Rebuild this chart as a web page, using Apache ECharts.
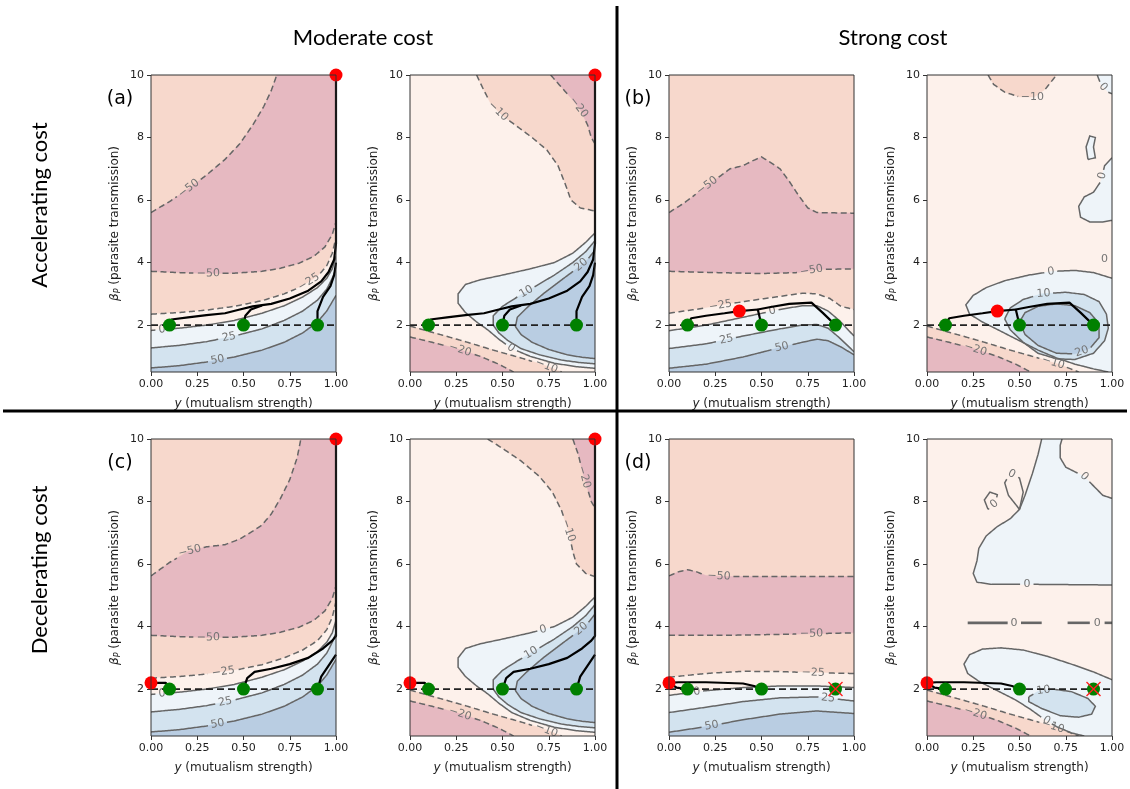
<!DOCTYPE html>
<html>
<head>
<meta charset="utf-8">
<script src="https://cdn.jsdelivr.net/npm/echarts@6/dist/echarts.min.js"></script>
<style>html,body{margin:0;padding:0;background:#fff}#main{width:1130px;height:789px}</style>
</head>
<body>
<div id="main"></div>
<script>
// axes
var xTicks = [0, 0.25, 0.5, 0.75, 1];
var yTicks = [2, 4, 6, 8, 10];
var yMin = 0.5, yMax = 10;
var greens = [[0.1, 2], [0.5, 2], [0.9, 2]];
var startLine = [[0, 2], [1, 2]];

// moderate cost, accelerating (a) - left, levels -50..50
var aUp50 = [[0,5.6],[0.1,5.95],[0.2,6.35],[0.3,6.8],[0.4,7.3],[0.48,7.8],[0.55,8.4],[0.61,9.0],[0.65,9.5],[0.68,10]];
var aLow50 = [[0,3.72],[0.15,3.68],[0.3,3.65],[0.45,3.66],[0.6,3.72],[0.7,3.82],[0.8,3.98],[0.88,4.2],[0.94,4.5],[0.98,4.9],[1,5.3]];
var aNeg25 = [[0,2.35],[0.15,2.4],[0.3,2.48],[0.45,2.6],[0.6,2.78],[0.72,3.0],[0.82,3.25],[0.9,3.55],[0.95,3.9],[0.98,4.3],[1,4.8]];
var aZero = [[0,1.83],[0.15,1.9],[0.3,2.0],[0.45,2.15],[0.6,2.38],[0.72,2.62],[0.82,2.9],[0.9,3.2],[0.95,3.5],[0.98,3.8],[1,4.2]];
var aPos25 = [[0,1.27],[0.15,1.35],[0.3,1.47],[0.45,1.65],[0.6,1.88],[0.72,2.15],[0.82,2.45],[0.9,2.8],[0.95,3.15],[0.98,3.5],[1,3.8]];
var aPos50 = [[0,0.63],[0.15,0.7],[0.3,0.82],[0.45,0.98],[0.6,1.2],[0.72,1.45],[0.82,1.75],[0.9,2.1],[0.95,2.45],[1,2.95]];
// (a) right, levels -20..20
var a2Neg10 = [[0.36,10],[0.4,9.5],[0.44,9.05],[0.5,8.7],[0.58,8.35],[0.66,8.0],[0.74,7.6],[0.8,7.1],[0.84,6.5],[0.87,6.0],[0.92,5.75],[1,5.65]];
var a2Neg20 = [[0.76,10],[0.82,9.6],[0.88,9.2],[0.92,8.9],[0.96,8.4],[0.98,8.0],[1,7.8]];
var blNeg10 = [[0,1.97],[0.15,1.72],[0.3,1.47],[0.45,1.2],[0.6,0.95],[0.72,0.73],[0.82,0.5]];
var blNeg20 = [[0,1.62],[0.12,1.45],[0.25,1.25],[0.38,1.0],[0.48,0.75],[0.56,0.5]];
var a2Zero = [[1,4.95],[0.95,4.65],[0.88,4.3],[0.78,4.0],[0.65,3.8],[0.5,3.6],[0.38,3.45],[0.3,3.3],[0.26,3.0],[0.26,2.7],[0.3,2.4],[0.36,2.1],[0.42,1.85],[0.48,1.55],[0.55,1.25],[0.65,1.0],[0.78,0.78],[0.9,0.67],[1,0.62]];
var a2Pos10 = [[1,4.7],[0.95,4.35],[0.88,4.0],[0.78,3.6],[0.68,3.25],[0.58,2.9],[0.5,2.6],[0.45,2.3],[0.45,2.0],[0.48,1.75],[0.53,1.5],[0.6,1.25],[0.7,1.05],[0.82,0.88],[0.92,0.8],[1,0.76]];
var a2Pos20 = [[1,4.4],[0.96,4.1],[0.9,3.8],[0.82,3.45],[0.72,3.0],[0.64,2.6],[0.58,2.25],[0.57,1.95],[0.6,1.7],[0.66,1.45],[0.75,1.22],[0.85,1.05],[0.93,0.97],[1,0.93]];

// strong cost, accelerating (b)
var bUp50 = [[0,5.6],[0.08,5.9],[0.17,6.3],[0.25,6.65],[0.33,7.0],[0.4,7.1],[0.45,7.25],[0.5,7.38],[0.55,7.2],[0.6,7.0],[0.65,6.6],[0.7,6.15],[0.75,5.75],[0.8,5.6],[1,5.58]];
var bLow50 = [[0,3.72],[0.25,3.68],[0.5,3.65],[0.7,3.68],[0.8,3.78],[1,3.8]];
var bNeg25 = [[0,2.38],[0.2,2.55],[0.4,2.75],[0.6,2.92],[0.72,3.02],[0.8,3.0],[0.87,2.85],[0.93,2.6],[1,2.5]];
var bZero = [[0,1.82],[0.2,2.0],[0.4,2.25],[0.6,2.5],[0.72,2.62],[0.8,2.62],[0.86,2.45],[0.92,2.15],[0.96,1.9],[1,1.65]];
var bPos25 = [[0,1.25],[0.2,1.4],[0.4,1.65],[0.6,1.88],[0.72,2.0],[0.8,2.02],[0.86,1.9],[0.92,1.6],[1,1.15]];
var bPos50 = [[0,0.62],[0.2,0.75],[0.4,0.98],[0.6,1.28],[0.72,1.45],[0.8,1.55],[0.86,1.5],[0.93,1.3],[1,1.05]];
var b2Neg10 = [[0.33,10],[0.36,9.7],[0.42,9.45],[0.5,9.3],[0.58,9.3],[0.64,9.55],[0.68,9.85],[0.7,10]];
var b2Zero = [[1,3.5],[0.9,3.68],[0.8,3.75],[0.68,3.72],[0.55,3.6],[0.42,3.42],[0.32,3.2],[0.25,2.95],[0.21,2.65],[0.23,2.35],[0.3,2.1],[0.4,1.8],[0.5,1.5],[0.6,1.2],[0.7,0.95],[0.8,0.75],[0.9,0.6],[0.98,0.5]];
var b2Pos10 = [[0.42,2.2],[0.45,2.55],[0.52,2.82],[0.62,3.0],[0.75,3.05],[0.85,2.98],[0.93,2.75],[0.97,2.35],[0.98,1.9],[0.96,1.5],[0.9,1.1],[0.8,0.9],[0.7,0.92],[0.6,1.1],[0.52,1.45],[0.45,1.85],[0.42,2.2]];
var b2Pos20 = [[0.5,2.1],[0.53,2.4],[0.6,2.6],[0.7,2.68],[0.8,2.62],[0.88,2.4],[0.93,2.05],[0.93,1.6],[0.88,1.25],[0.8,1.08],[0.7,1.1],[0.6,1.35],[0.53,1.7],[0.5,2.1]];
var b2BlobA = [[1,7.35],[0.96,7.1],[0.94,6.6],[0.9,6.25],[0.85,6.1],[0.82,5.8],[0.83,5.45],[0.88,5.3],[0.95,5.3],[1,5.35]];
var b2BlobB = [[0.87,7.3],[0.86,7.7],[0.88,8.05],[0.91,8.0],[0.9,7.7],[0.91,7.35],[0.87,7.3]];
var b2BlobC = [[0.92,10],[0.94,9.7],[0.98,9.45],[1,9.4]];
var b2Seg = [[0.96,4.12],[1,4.12]];

// moderate cost, decelerating (c)
var cUp50 = [[0,5.62],[0.1,6.05],[0.2,6.4],[0.3,6.55],[0.4,6.62],[0.48,6.8],[0.55,7.05],[0.6,7.25],[0.65,7.6],[0.7,8.1],[0.75,8.7],[0.79,9.4],[0.81,10]];
var c2Neg10 = [[0.42,10],[0.5,9.7],[0.6,9.3],[0.7,8.8],[0.77,8.3],[0.82,7.7],[0.86,7.0],[0.88,6.4],[0.9,6.0],[0.95,5.7],[1,5.6]];
var c2Neg20 = [[0.88,10],[0.91,9.5],[0.93,9.0],[0.96,8.4],[0.98,8.0],[1,7.8]];

// strong cost, decelerating (d)
var dUp50 = [[0,5.62],[0.05,5.75],[0.1,5.82],[0.15,5.75],[0.2,5.63],[0.3,5.6],[1,5.6]];
var dLow50 = [[0,3.72],[0.3,3.72],[0.6,3.75],[1,3.8]];
var dNeg25 = [[0,2.38],[0.2,2.5],[0.4,2.57],[0.6,2.56],[0.8,2.52],[1,2.5]];
var dZero = [[0,1.8],[0.2,1.95],[0.4,2.05],[0.6,2.1],[0.8,2.1],[1,2.05]];
var dPos25 = [[0,1.25],[0.2,1.42],[0.4,1.6],[0.6,1.72],[0.8,1.75],[1,1.62]];
var dPos50 = [[0,0.62],[0.2,0.8],[0.4,1.02],[0.6,1.2],[0.8,1.3],[1,1.22]];
var d2Zero = [[1,2.3],[0.9,2.55],[0.78,2.8],[0.65,3.05],[0.52,3.25],[0.4,3.32],[0.3,3.28],[0.23,3.1],[0.2,2.8],[0.22,2.5],[0.28,2.25],[0.38,1.95],[0.48,1.65],[0.56,1.35],[0.63,1.05],[0.7,0.8],[0.78,0.6],[0.85,0.5]];
var d2Pos10 = [[0.55,1.75],[0.6,1.93],[0.68,2.0],[0.78,1.92],[0.87,1.7],[0.91,1.45],[0.89,1.2],[0.82,1.1],[0.72,1.15],[0.62,1.38],[0.55,1.6],[0.55,1.75]];
var d2Top1 = [[0.62,10],[0.6,9.5],[0.57,8.9],[0.53,8.2],[0.5,7.75],[0.45,7.45],[0.38,7.2],[0.32,6.9],[0.28,6.5],[0.27,6.1],[0.25,5.7],[0.27,5.42],[0.35,5.35],[0.6,5.35],[1,5.33]];
var d2Top2 = [[1,8.1],[0.95,8.2],[0.9,8.5],[0.85,8.8],[0.8,8.95],[0.75,9.1],[0.72,9.4],[0.72,9.8],[0.73,10]];
var d2LoopA = [[0.33,7.75],[0.31,8.05],[0.34,8.3],[0.38,8.22],[0.37,7.95],[0.33,7.75]];
var d2LoopB = [[0.5,7.75],[0.44,8.2],[0.42,8.6],[0.45,8.9],[0.5,8.75],[0.52,8.3],[0.5,7.75]];
var d2SegA = [[0.22,4.12],[0.62,4.12]];
var d2SegB = [[0.76,4.12],[1,4.12]];

// trajectories
var pathsA = [[[0.1,2],[0.11,2.18],[0.2,2.25],[0.3,2.32],[0.4,2.38],[0.48,2.5],[0.55,2.6],[0.65,2.68],[0.75,2.85],[0.85,3.1],[0.92,3.4],[0.96,3.7],[0.99,4.1],[1,4.6],[1,10]],
              [[0.5,2],[0.51,2.3],[0.54,2.5],[0.6,2.63]],
              [[0.9,2],[0.9,2.45],[0.93,2.9],[0.97,3.25],[0.99,3.6],[1,4.0]]];
var redsA = [[1,10]];
var pathsB = [[[0.1,2],[0.12,2.22],[0.2,2.3],[0.3,2.38],[0.38,2.45]],
              [[0.5,2],[0.48,2.5],[0.38,2.45]],
              [[0.9,2],[0.83,2.4],[0.77,2.72],[0.65,2.68],[0.55,2.58],[0.48,2.5]]];
var redsB = [[0.38,2.45]];
var pathsC = [[[0,2.2],[0.08,2.2],[0.1,2.0]],
              [[0.5,2],[0.52,2.35],[0.56,2.55],[0.65,2.65],[0.75,2.8],[0.85,3.0],[0.93,3.3],[0.98,3.55],[1,3.7],[1,10]],
              [[0.9,2],[0.92,2.4],[0.96,2.75],[1,3.1]]];
var redsC = [[0,2.2],[1,10]];
var pathsD = [[[0.1,2],[0.04,2.05],[0,2.2]],
              [[0.5,2],[0.46,2.1],[0.4,2.18],[0.2,2.22],[0.05,2.22],[0,2.2]]];
var redsD = [[0,2.2]];
var crossesD = [[0.9,2]];

var P3 = '#e6b9c1', P2 = '#f7d8cc', P1 = '#fdf1eb', B1 = '#eef4f9', B2 = '#d3e3ef', B3 = '#b9cde2';
var GREY = '#666666';
var box = [[0,yMin],[1,yMin],[1,yMax],[0,yMax]];
function under(c) { return c.concat([[1, yMin], [0, yMin]]); }
function rev(c) { return c.slice().reverse(); }
function cornerBL(c) { return c.concat([[0, yMin]]); }

var panels = [
  { left:151, top:75, tag:'(a)',
    fills:[[P2,box],[P3,aUp50.concat([[1,10]],rev(aLow50))],[P1,under(aNeg25)],[B1,under(aZero)],[B2,under(aPos25)],[B3,under(aPos50)]],
    lines:[[aUp50,1],[aLow50,1],[aNeg25,1],[aZero,0],[aPos25,0],[aPos50,0]],
    labels:[['−50',aUp50,0.2,6.4],['−50',aLow50,0.31,3.65],['−25',aNeg25,0.85,3.4],['0',aZero,0.06,1.87],['25',aPos25,0.42,1.65],['50',aPos50,0.36,0.88]],
    paths:pathsA, reds:redsA, crosses:[] },
  { left:410, top:75,
    fills:[[P1,box],[P2,a2Neg10.concat([[1,10]])],[P3,a2Neg20.concat([[1,10]])],[P2,cornerBL(blNeg10)],[P3,cornerBL(blNeg20)],[B1,a2Zero],[B2,a2Pos10],[B3,a2Pos20]],
    lines:[[a2Neg10,1],[a2Neg20,1],[blNeg10,1],[blNeg20,1],[a2Zero,0],[a2Pos10,0],[a2Pos20,0]],
    labels:[['−10',a2Neg10,0.47,8.8],['−20',a2Neg20,0.92,9.0],['−20',blNeg20,0.27,1.2],['−10',blNeg10,0.74,0.72],['0',a2Zero,0.54,1.22],['10',a2Pos10,0.64,2.95],['20',a2Pos20,0.93,3.9]],
    paths:pathsA, reds:redsA, crosses:[] },
  { left:669, top:75, tag:'(b)',
    fills:[[P2,box],[P3,bUp50.concat(rev(bLow50))],[P1,under(bNeg25)],[B1,under(bZero)],[B2,under(bPos25)],[B3,under(bPos50)]],
    lines:[[bUp50,1],[bLow50,1],[bNeg25,1],[bZero,0],[bPos25,0],[bPos50,0]],
    labels:[['−50',bUp50,0.21,6.43],['−50',bLow50,0.77,3.74],['−25',bNeg25,0.28,2.55],['0',bZero,0.56,2.4],['25',bPos25,0.31,1.55],['50',bPos50,0.61,1.3]],
    paths:pathsB, reds:redsB, crosses:[] },
  { left:927, top:75,
    fills:[[P1,box],[P2,b2Neg10],[P2,cornerBL(blNeg10)],[P3,cornerBL(blNeg20)],[B1,b2Zero.concat([[1,yMin]])],[B2,b2Pos10],[B3,b2Pos20],[B1,b2BlobA],[B1,b2BlobB],[B1,b2BlobC.concat([[1,10]])]],
    lines:[[b2Neg10,1],[blNeg10,1],[blNeg20,1],[b2Zero,0],[b2Pos10,0],[b2Pos20,0],[b2BlobA,0],[b2BlobB,0],[b2BlobC,0],[b2Seg,0]],
    labels:[['−10',b2Neg10,0.57,9.3],['−20',blNeg20,0.26,1.2],['−10',blNeg10,0.68,0.75],['0',b2Zero,0.67,3.74],['10',b2Pos10,0.63,2.98],['20',b2Pos20,0.84,1.1],['0',b2BlobA,0.93,6.8],['0',b2Seg,0.91,4.12],['0',b2BlobC,0.95,9.6]],
    paths:pathsB, reds:redsB, crosses:[] },
  { left:151, top:439, tag:'(c)',
    fills:[[P2,box],[P3,cUp50.concat([[1,10]],rev(aLow50))],[P1,under(aNeg25)],[B1,under(aZero)],[B2,under(aPos25)],[B3,under(aPos50)]],
    lines:[[cUp50,1],[aLow50,1],[aNeg25,1],[aZero,0],[aPos25,0],[aPos50,0]],
    labels:[['−50',cUp50,0.21,6.4],['−50',aLow50,0.31,3.65],['−25',aNeg25,0.39,2.6],['0',aZero,0.06,1.87],['25',aPos25,0.4,1.62],['50',aPos50,0.36,0.88]],
    paths:pathsC, reds:redsC, crosses:[] },
  { left:410, top:439,
    fills:[[P1,box],[P2,c2Neg10.concat([[1,10]])],[P3,c2Neg20.concat([[1,10]])],[P2,cornerBL(blNeg10)],[P3,cornerBL(blNeg20)],[B1,a2Zero],[B2,a2Pos10],[B3,a2Pos20]],
    lines:[[c2Neg10,1],[c2Neg20,1],[blNeg10,1],[blNeg20,1],[a2Zero,0],[a2Pos10,0],[a2Pos20,0]],
    labels:[['−10',c2Neg10,0.87,7.1],['−20',c2Neg20,0.95,8.8],['−20',blNeg20,0.27,1.2],['−10',blNeg10,0.74,0.72],['0',a2Zero,0.72,3.9],['10',a2Pos10,0.66,3.1],['20',a2Pos20,0.93,3.9]],
    paths:pathsC, reds:redsC, crosses:[] },
  { left:669, top:439, tag:'(d)',
    fills:[[P2,box],[P3,dUp50.concat(rev(dLow50))],[P1,under(dNeg25)],[B1,under(dZero)],[B2,under(dPos25)],[B3,under(dPos50)]],
    lines:[[dUp50,1],[dLow50,1],[dNeg25,1],[dZero,0],[dPos25,0],[dPos50,0]],
    labels:[['−50',dUp50,0.27,5.6],['−50',dLow50,0.77,3.8],['−25',dNeg25,0.78,2.53],['0',dZero,0.15,1.95],['25',dPos25,0.86,1.73],['50',dPos50,0.23,0.85]],
    paths:pathsD, reds:redsD, crosses:crossesD },
  { left:927, top:439,
    fills:[[P1,box],[P2,cornerBL(blNeg10)],[P3,cornerBL(blNeg20)],[B1,d2Zero.concat([[1,yMin]])],[B2,d2Pos10],[B1,d2Top1.concat(d2Top2)],[P1,d2LoopA],[P1,d2LoopB]],
    lines:[[blNeg10,1],[blNeg20,1],[d2Zero,0],[d2Pos10,0],[d2Top1,0],[d2Top2,0],[d2LoopA,0],[d2LoopB,0],[d2SegA,0,2.6],[d2SegB,0,2.6]],
    labels:[['−20',blNeg20,0.26,1.2],['−10',blNeg10,0.67,0.6],['0',d2Zero,0.65,1.04],['10',d2Pos10,0.63,1.95],['0',d2Top1,0.54,5.35],['0',d2SegA,0.47,4.12],['0',d2SegB,0.92,4.12],['0',d2LoopB,0.46,8.9],['0',d2LoopA,0.36,7.95],['0',d2Top2,0.85,8.8]],
    paths:pathsD, reds:redsD, crosses:crossesD }
];

var W = 185, H = 297;
var grids = [], xAxes = [], yAxes = [], series = [];
var tickFont = { fontSize: 11, color: '#1e1e1e', fontFamily: 'DejaVu Sans' };

// where a contour label sits (pixel point on its line + angle)
function anchor(lbl, api) {
  var tgt = api.coord([lbl[2], lbl[3]]);
  var pts = lbl[1].map(function (pt) { return api.coord(pt); });
  var best = tgt, bd = 1e12, ang = 0;
  for (var k = 0; k < pts.length - 1; k++) {
    var a = pts[k], b = pts[k + 1];
    var dx = b[0] - a[0], dy = b[1] - a[1];
    var L = dx * dx + dy * dy;
    var t = L ? ((tgt[0] - a[0]) * dx + (tgt[1] - a[1]) * dy) / L : 0;
    t = Math.max(0, Math.min(1, t));
    var px = a[0] + t * dx, py = a[1] + t * dy;
    var d = (px - tgt[0]) * (px - tgt[0]) + (py - tgt[1]) * (py - tgt[1]);
    if (d < bd) { bd = d; best = [px, py]; ang = Math.atan2(-dy, dx); }
  }
  if (ang > Math.PI / 2) ang -= Math.PI;
  if (ang < -Math.PI / 2) ang += Math.PI;
  var w = 0;
  for (var c = 0; c < lbl[0].length; c++) w += lbl[0][c] === '−' ? 9.2 : 7;
  return { x: best[0], y: best[1], rot: ang, r: w / 2 + 2.5 };
}

// split a pixel polyline, leaving a gap round every label
function cutLine(pts, holes) {
  var out = [], cur = [];
  for (var k = 0; k < pts.length - 1; k++) {
    var a = pts[k], b = pts[k + 1];
    var len = Math.sqrt((b[0] - a[0]) * (b[0] - a[0]) + (b[1] - a[1]) * (b[1] - a[1]));
    var n = Math.max(1, Math.ceil(len / 1.5));
    for (var s = (k === 0 ? 0 : 1); s <= n; s++) {
      var p = [a[0] + (b[0] - a[0]) * s / n, a[1] + (b[1] - a[1]) * s / n];
      var hit = holes.some(function (h) {
        return (p[0] - h.x) * (p[0] - h.x) + (p[1] - h.y) * (p[1] - h.y) < h.r * h.r;
      });
      if (hit) { if (cur.length > 1) out.push(cur); cur = []; }
      else cur.push(p);
    }
  }
  if (cur.length > 1) out.push(cur);
  return out;
}

panels.forEach(function (p, i) {
  grids.push({ left: p.left, top: p.top, width: W, height: H, outerBoundsMode: 'none' });
  xAxes.push({
    gridIndex: i, type: 'value', min: 0, max: 1,
    axisLine: { show: false }, splitLine: { show: false },
    axisTick: { show: true, length: 4, customValues: xTicks, lineStyle: { color: '#333' } },
    axisLabel: Object.assign({ customValues: xTicks, margin: 7, formatter: function (v) { return v.toFixed(2); } }, tickFont),
    name: '{i|y} (mutualism strength)', nameLocation: 'middle', nameGap: 26,
    nameTextStyle: { fontSize: 12, color: '#1e1e1e', fontFamily: 'DejaVu Sans',
      rich: { i: { fontStyle: 'italic', fontSize: 12, color: '#1e1e1e', fontFamily: 'DejaVu Sans' } } }
  });
  yAxes.push({
    gridIndex: i, type: 'value', min: yMin, max: yMax,
    axisLine: { show: false }, splitLine: { show: false },
    axisTick: { show: true, length: 4, customValues: yTicks, lineStyle: { color: '#333' } },
    axisLabel: Object.assign({ customValues: yTicks, margin: 7 }, tickFont),
    name: '{i|β}{s|P} (parasite transmission)', nameLocation: 'middle', nameGap: 29,
    nameTextStyle: { fontSize: 12, color: '#1e1e1e', fontFamily: 'DejaVu Sans',
      rich: { i: { fontStyle: 'italic', fontSize: 12, color: '#1e1e1e', fontFamily: 'DejaVu Sans' },
              s: { fontStyle: 'italic', fontSize: 8, color: '#1e1e1e', fontFamily: 'DejaVu Sans', padding: [6, 0, 0, 0] } } }
  });

  var base = { xAxisIndex: i, yAxisIndex: i, silent: true, animation: false };

  // filled contour regions, painted in order
  series.push(Object.assign({
    type: 'custom', clip: true, z: 1,
    data: p.fills.map(function () { return [0, 1]; }),
    renderItem: function (params, api) {
      var f = p.fills[params.dataIndex];
      return { type: 'polygon', shape: { points: f[1].map(function (pt) { return api.coord(pt); }) },
        style: { fill: f[0], stroke: f[0], lineWidth: 0.5 } };
    }
  }, base));

  // contour lines, broken where labels sit
  series.push(Object.assign({
    type: 'custom', clip: true, z: 3,
    data: p.lines.map(function () { return [0, 1]; }),
    renderItem: function (params, api) {
      var l = p.lines[params.dataIndex];
      var holes = p.labels.filter(function (lb) { return lb[1] === l[0]; })
        .map(function (lb) { return anchor(lb, api); });
      var pieces = cutLine(l[0].map(function (pt) { return api.coord(pt); }), holes);
      return { type: 'group', children: pieces.map(function (pc) {
        return { type: 'polyline', shape: { points: pc },
          style: { stroke: GREY, fill: null, lineWidth: l[2] || 1.5, lineDash: l[1] ? [6, 3.5] : null } };
      }) };
    }
  }, base));

  // contour labels
  series.push(Object.assign({
    type: 'custom', z: 4, clip: false,
    data: p.labels.map(function () { return [0, 1]; }),
    renderItem: function (params, api) {
      var l = p.labels[params.dataIndex];
      var an = anchor(l, api);
      return { type: 'text', x: an.x, y: an.y, rotation: an.rot,
        style: { text: l[0], fill: '#747474', font: '11px "DejaVu Sans"', align: 'center', verticalAlign: 'middle' } };
    }
  }, base));

  series.push(Object.assign({
    type: 'line', data: startLine, showSymbol: false, symbol: 'none', z: 5,
    lineStyle: { color: '#222', width: 1.7, type: [7, 4] }
  }, base));

  p.paths.forEach(function (path) {
    series.push(Object.assign({
      type: 'line', data: path, showSymbol: false, symbol: 'none', z: 6, clip: false,
      lineStyle: { color: '#000', width: 2.2 }
    }, base));
  });

  series.push(Object.assign({
    type: 'scatter', data: greens, symbolSize: 13, z: 7, clip: false,
    itemStyle: { color: '#008000', opacity: 1 }
  }, base));
  series.push(Object.assign({
    type: 'scatter', data: p.reds, symbolSize: 13, z: 7, clip: false,
    itemStyle: { color: '#ff0000', opacity: 1 }
  }, base));
  if (p.crosses.length) {
    series.push(Object.assign({
      type: 'scatter', data: p.crosses, symbol: 'path://M0,0L10,10M10,0L0,10', symbolSize: 14, z: 8, clip: false,
      itemStyle: { color: 'none', borderColor: '#ff2020', borderWidth: 1.4, opacity: 1 }
    }, base));
  }

  // axes frame
  series.push(Object.assign({
    type: 'custom', z: 9, clip: false, data: [[0, 1]],
    renderItem: function (params) {
      var cs = params.coordSys;
      return { type: 'rect', shape: { x: cs.x, y: cs.y, width: cs.width, height: cs.height },
        style: { fill: 'none', stroke: '#333', lineWidth: 1 } };
    }
  }, base));
});

var headFont = '22px Lato';
var tagFont = '19px "DejaVu Sans"';
var graphics = [
  { type: 'text', x: 363, y: 38, style: { text: 'Moderate cost', font: headFont, fill: '#000', align: 'center', verticalAlign: 'middle' } },
  { type: 'text', x: 893, y: 38, style: { text: 'Strong cost', font: headFont, fill: '#000', align: 'center', verticalAlign: 'middle' } },
  { type: 'text', x: 40, y: 205, rotation: Math.PI / 2, style: { text: 'Accelerating cost', font: headFont, fill: '#000', align: 'center', verticalAlign: 'middle' } },
  { type: 'text', x: 40, y: 570, rotation: Math.PI / 2, style: { text: 'Decelerating cost', font: headFont, fill: '#000', align: 'center', verticalAlign: 'middle' } },
  { type: 'line', shape: { x1: 617, y1: 6, x2: 617, y2: 789 }, style: { stroke: '#000', lineWidth: 3 } },
  { type: 'line', shape: { x1: 3, y1: 411, x2: 1127, y2: 411 }, style: { stroke: '#000', lineWidth: 3 } }
];
panels.forEach(function (p) {
  if (p.tag) {
    graphics.push({ type: 'text', x: p.left - 31, y: p.top + 24, style: { text: p.tag, font: tagFont, fill: '#000', align: 'center', verticalAlign: 'middle' } });
  }
});

var chart = echarts.init(document.getElementById('main'));
chart.setOption({
  animation: false,
  backgroundColor: '#fff',
  grid: grids,
  xAxis: xAxes,
  yAxis: yAxes,
  series: series,
  graphic: graphics
});
</script>
</body>
</html>
